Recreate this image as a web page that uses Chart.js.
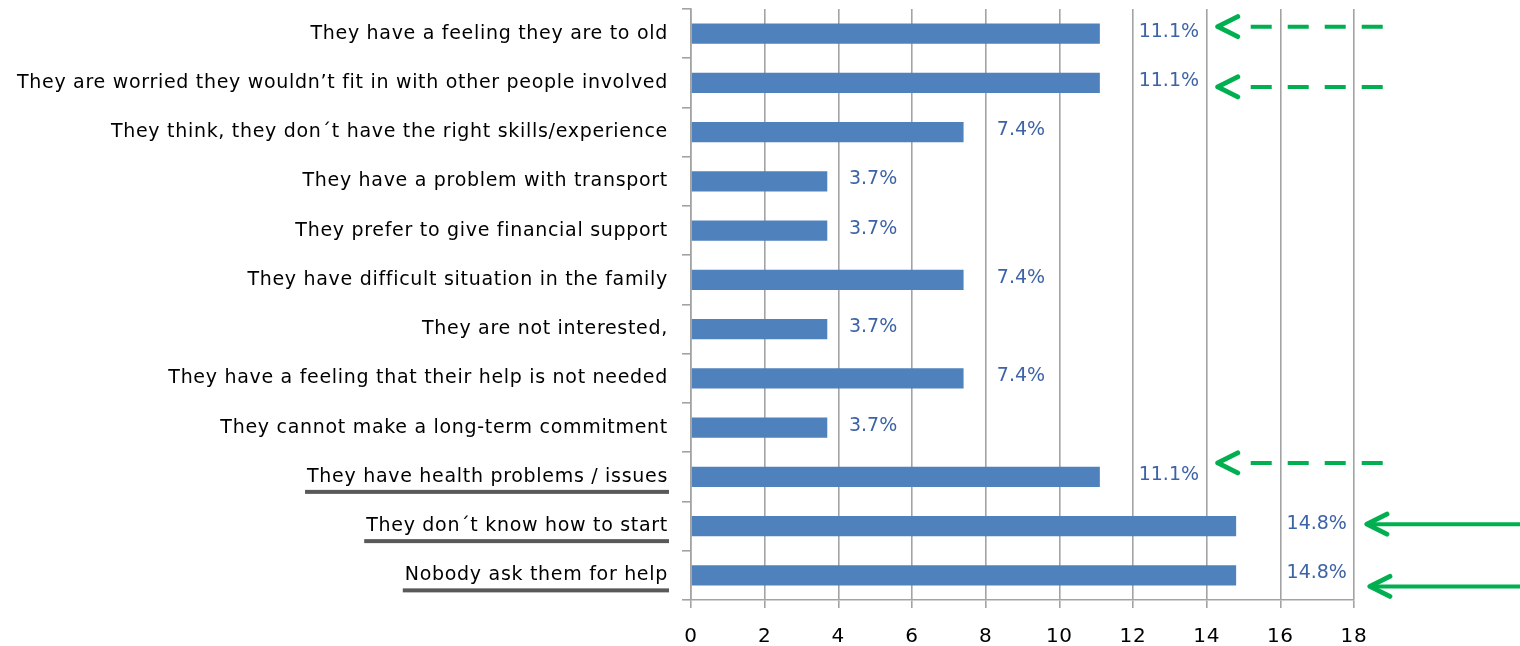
<!DOCTYPE html>
<html>
<head>
<meta charset="utf-8">
<script src="https://cdn.jsdelivr.net/npm/chart.js"></script>
<style>
  html, body { margin: 0; padding: 0; background: #fff; }
  #wrap { width: 1520px; height: 646px; }
</style>
</head>
<body>
<div id="wrap"><canvas id="reasonsChart" width="1520" height="646"></canvas></div>
<script>
/* ---- data ---- */
const reasons = [
  "They have a feeling they are to old",
  "They are worried they wouldn’t fit in with other people involved",
  "They think, they don´t have the right skills/experience",
  "They have a problem with transport",
  "They prefer to give financial support",
  "They have difficult situation in the family",
  "They are not interested,",
  "They have a feeling that their help is not needed",
  "They cannot make a long-term commitment",
  "They have health problems / issues",
  "They don´t know how to start",
  "Nobody ask them for help"
];
const shares = [11.1, 11.1, 7.4, 3.7, 3.7, 7.4, 3.7, 7.4, 3.7, 11.1, 14.8, 14.8];
const xTicks = [0, 2, 4, 6, 8, 10, 12, 14, 16, 18];

// rows with underlined labels, and rows pointed at by arrows
const underlined = [9, 10, 11];
const dashedArrows = [0, 1, 9];
const solidArrows = [10, 11];

const FAMILY = "'DejaVu Sans', Verdana, sans-serif";
const LABEL_SIZE = 19;
const LABEL_SPACING = '0.7px';
const TICK_LEN = 9;
const TICK_PAD = 14;

/* ---- wider tracking for the axis text only ---- */
const axisTracking = {
  id: 'axisTracking',
  beforeDraw(chart) { chart.ctx.letterSpacing = LABEL_SPACING; },
  beforeDatasetsDraw(chart) { chart.ctx.letterSpacing = '0px'; }
};

/* ---- value labels next to each bar ---- */
const valueLabels = {
  id: 'valueLabels',
  afterDatasetsDraw(chart) {
    const { ctx } = chart;
    const xs = chart.scales.x, ys = chart.scales.y;
    ctx.save();
    ctx.font = '19px ' + FAMILY;
    ctx.fillStyle = '#3d63a7';
    ctx.textAlign = 'center';
    ctx.textBaseline = 'middle';
    shares.forEach((v, i) => {
      // labels sit further out the longer the bar is
      const cx = xs.getPixelForValue(v * 1.085 + 0.93);
      ctx.fillText(v.toFixed(1) + '%', cx, ys.getPixelForValue(i) - 2);
    });
    ctx.restore();
  }
};

/* ---- underlines and green arrows ---- */
const highlights = {
  id: 'highlights',
  afterDraw(chart) {
    const { ctx, chartArea } = chart;
    const xs = chart.scales.x, ys = chart.scales.y;
    ctx.save();

    // underline under selected category labels
    ctx.font = LABEL_SIZE + 'px ' + FAMILY;
    ctx.letterSpacing = LABEL_SPACING;
    ctx.fillStyle = '#595959';
    const right = chartArea.left - TICK_LEN - TICK_PAD;
    underlined.forEach(i => {
      const w = ctx.measureText(reasons[i]).width;
      const y = ys.getPixelForValue(i) + 13;
      ctx.fillRect(right - w - 2, y, w + 3, 4);
    });
    ctx.letterSpacing = '0px';

    ctx.strokeStyle = '#00b050';

    const head = (tipX, y) => {
      ctx.setLineDash([]);
      ctx.lineWidth = 5;
      ctx.lineJoin = 'round';
      ctx.lineCap = 'round';
      ctx.beginPath();
      ctx.moveTo(tipX + 20, y - 10);
      ctx.lineTo(tipX, y);
      ctx.lineTo(tipX + 20, y + 10);
      ctx.stroke();
      ctx.lineCap = 'butt';
    };

    // dashed arrows
    const dashOffsets = { 0: -7, 1: 4, 9: -14 };
    dashedArrows.forEach(i => {
      const y = ys.getPixelForValue(i) + dashOffsets[i];
      const tip = xs.getPixelForValue(14.3);
      ctx.setLineDash([21, 16]);
      ctx.lineWidth = 4;
      ctx.beginPath();
      ctx.moveTo(tip + 33, y);
      ctx.lineTo(xs.getPixelForValue(18.8), y);
      ctx.stroke();
      head(tip, y);
    });

    // solid arrows
    const solidOffsets = { 10: -2, 11: 11 };
    solidArrows.forEach(i => {
      const y = ys.getPixelForValue(i) + solidOffsets[i];
      const tip = xs.getPixelForValue(18.35) + (i === 11 ? 3 : 0);
      ctx.setLineDash([]);
      ctx.lineWidth = 4;
      ctx.beginPath();
      ctx.moveTo(tip + 4, y);
      ctx.lineTo(chart.width, y);
      ctx.stroke();
      head(tip, y);
    });

    ctx.restore();
  }
};

new Chart(document.getElementById('reasonsChart'), {
  type: 'bar',
  data: {
    labels: reasons,
    datasets: [{
      data: shares,
      backgroundColor: '#4f81bd',
      borderWidth: 0,
      categoryPercentage: 1,
      barPercentage: 0.41
    }]
  },
  options: {
    indexAxis: 'y',
    responsive: false,
    animation: false,
    layout: { padding: { top: 9, right: 166, bottom: 0, left: 0 } },
    plugins: { legend: { display: false }, tooltip: { enabled: false } },
    scales: {
      x: {
        min: 0,
        max: 18,
        afterBuildTicks(scale) { scale.ticks = xTicks.map(v => ({ value: v })); },
        afterFit(scale) { scale.height = 46; },
        grid: { color: '#a3a3a3', lineWidth: 1.6, tickLength: 8 },
        border: { color: '#a3a3a3', width: 1.6 },
        ticks: {
          color: '#000',
          padding: 17,
          font: { family: FAMILY, size: 20 }
        }
      },
      y: {
        afterFit(scale) {
          scale.width = 691;
          scale.paddingTop = 0;
          scale.paddingBottom = 0;
        },
        grid: { drawOnChartArea: false, color: '#a3a3a3', lineWidth: 1.6, tickLength: TICK_LEN },
        border: { color: '#a3a3a3', width: 1.6 },
        ticks: {
          color: '#000',
          padding: TICK_PAD,
          autoSkip: false,
          font: { family: FAMILY, size: LABEL_SIZE }
        }
      }
    }
  },
  plugins: [axisTracking, valueLabels, highlights]
});
</script>
</body>
</html>
